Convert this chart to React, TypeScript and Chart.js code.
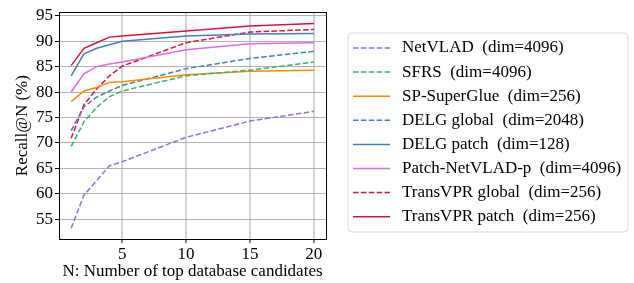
import React, { useEffect, useRef } from "react";
import { Chart, registerables } from "chart.js";

Chart.register(...registerables);

const topN = [1, 2, 3, 4, 5, 10, 15, 20];
const netvlad = [53.2, 59.7, 62.6, 65.5, 66.3, 71.1, 74.3, 76.2];
const sfrs = [69.3, 74.1, 77.0, 79.1, 80.2, 83.2, 84.3, 85.9];
const spSuperGlue = [78.1, 80.2, 80.9, 81.9, 82.0, 83.4, 84.1, 84.3];
const delgGlobal = [72.4, 77.1, 79.0, 80.2, 81.3, 84.6, 86.6, 88.0];
const delgPatch = [83.2, 87.5, 88.6, 89.3, 90.0, 91.0, 91.4, 91.5];
const patchNetvlad = [80.0, 83.6, 85.0, 85.5, 85.9, 88.3, 89.5, 89.7];
const transGlobal = [70.9, 77.5, 80.6, 83.2, 85.1, 89.7, 91.8, 92.3];
const transPatch = [85.2, 88.6, 89.7, 90.8, 91.0, 92.0, 93.0, 93.5];

const seriesNames = [
  "NetVLAD  (dim=4096)",
  "SFRS  (dim=4096)",
  "SP-SuperGlue  (dim=256)",
  "DELG global  (dim=2048)",
  "DELG patch  (dim=128)",
  "Patch-NetVLAD-p  (dim=4096)",
  "TransVPR global  (dim=256)",
  "TransVPR patch  (dim=256)",
];
const seriesValues = [netvlad, sfrs, spSuperGlue, delgGlobal, delgPatch, patchNetvlad, transGlobal, transPatch];
const seriesColors = ["#9370DB", "#3CB371", "#FF8C00", "#4682B4", "#4682B4", "#DA70D6", "#DC143C", "#DC143C"];
const seriesDashed = [true, true, false, true, false, false, true, false];

const xTicks = [5, 10, 15, 20];
const yTicks = [55, 60, 65, 70, 75, 80, 85, 90, 95];

const FONT = "'Liberation Serif', 'Times New Roman', serif";

export default function App() {
  const ref = useRef<HTMLCanvasElement | null>(null);
  useEffect(() => {
    if (!ref.current) return;
    const legendPlugin = {
      id: "customLegend",
      afterDatasetsDraw(chart: any) {
        const ctx = chart.ctx;
        const a = chart.chartArea;
        ctx.save();
        // frame
        ctx.strokeStyle = "#000";
        ctx.lineWidth = 1;
        ctx.strokeRect(Math.round(a.left) + 0.5, Math.round(a.top) + 0.5, Math.round(a.right - a.left), Math.round(a.bottom - a.top));
        // legend box
        const bx = 348, by = 33, bw = 280, bh = 199, r = 4;
        ctx.beginPath();
        ctx.moveTo(bx + r, by);
        ctx.lineTo(bx + bw - r, by);
        ctx.quadraticCurveTo(bx + bw, by, bx + bw, by + r);
        ctx.lineTo(bx + bw, by + bh - r);
        ctx.quadraticCurveTo(bx + bw, by + bh, bx + bw - r, by + bh);
        ctx.lineTo(bx + r, by + bh);
        ctx.quadraticCurveTo(bx, by + bh, bx, by + bh - r);
        ctx.lineTo(bx, by + r);
        ctx.quadraticCurveTo(bx, by, bx + r, by);
        ctx.closePath();
        ctx.fillStyle = "rgba(255,255,255,0.8)";
        ctx.fill();
        ctx.strokeStyle = "#d9d9d9";
        ctx.lineWidth = 1;
        ctx.stroke();
        chart.data.datasets.forEach((ds: any, i: number) => {
          const y = 48 + i * 24.1;
          ctx.beginPath();
          ctx.setLineDash(ds.borderDash || []);
          ctx.strokeStyle = ds.borderColor;
          ctx.lineWidth = 1.5;
          ctx.moveTo(353, y);
          ctx.lineTo(390, y);
          ctx.stroke();
          ctx.setLineDash([]);
          ctx.fillStyle = "#000";
          ctx.font = `17px ${FONT}`;
          ctx.textBaseline = "middle";
          ctx.textAlign = "left";
          ctx.fillText(ds.label, 402, y);
        });
        ctx.restore();
      },
    };
    const chart = new Chart(ref.current, {
      type: "line",
      data: {
        datasets: seriesNames.map((name, i) => ({
          label: name,
          data: topN.map((x, j) => ({ x, y: seriesValues[i][j] })),
          borderColor: seriesColors[i],
          backgroundColor: seriesColors[i],
          borderWidth: 1.5,
          borderDash: seriesDashed[i] ? [5.5, 2.4] : [],
          pointRadius: 0,
          tension: 0,
          fill: false,
        })),
      },
      options: {
        animation: false,
        responsive: false,
        maintainAspectRatio: false,
        layout: { padding: { left: 0, right: 308, top: 6, bottom: 0 } },
        plugins: { legend: { display: false }, tooltip: { enabled: false } },
        scales: {
          x: {
            type: "linear",
            min: 0.05,
            max: 20.95,
            afterBuildTicks: (s: any) => {
              s.ticks = xTicks.map((v) => ({ value: v }));
            },
            afterFit: (s: any) => {
              s.height = 44;
            },
            grid: { color: "#d4d4d4", lineWidth: 2, tickColor: "#000", tickLength: 4, tickWidth: 1, drawTicks: true },
            border: { display: false },
            ticks: { color: "#000", font: { family: FONT, size: 17 }, padding: 1, maxRotation: 0 },
            title: { display: true, text: "N: Number of top database candidates", color: "#000", font: { family: FONT, size: 17 }, padding: { top: 0, bottom: 1 } },
          },
          y: {
            type: "linear",
            min: 51.1,
            max: 95.7,
            afterBuildTicks: (s: any) => {
              s.ticks = yTicks.map((v) => ({ value: v }));
            },
            afterFit: (s: any) => {
              s.width = 59;
            },
            grid: { color: "#b0b0b0", lineWidth: 1, tickColor: "#000", tickLength: 4, tickWidth: 1 },
            border: { display: false },
            ticks: { color: "#000", font: { family: FONT, size: 17 }, padding: 2 },
            title: { display: true, text: "Recall@N (%)", color: "#000", font: { family: FONT, size: 17 }, padding: { top: 12, bottom: 0 } },
          },
        },
      },
      plugins: [legendPlugin],
    });
    return () => chart.destroy();
  }, []);
  return (
    <div style={{ position: "fixed", left: 0, top: 0, width: 634, height: 283, background: "#fff" }}>
      <canvas ref={ref} width={634} height={283} style={{ width: 634, height: 283 }} />
    </div>
  );
}
